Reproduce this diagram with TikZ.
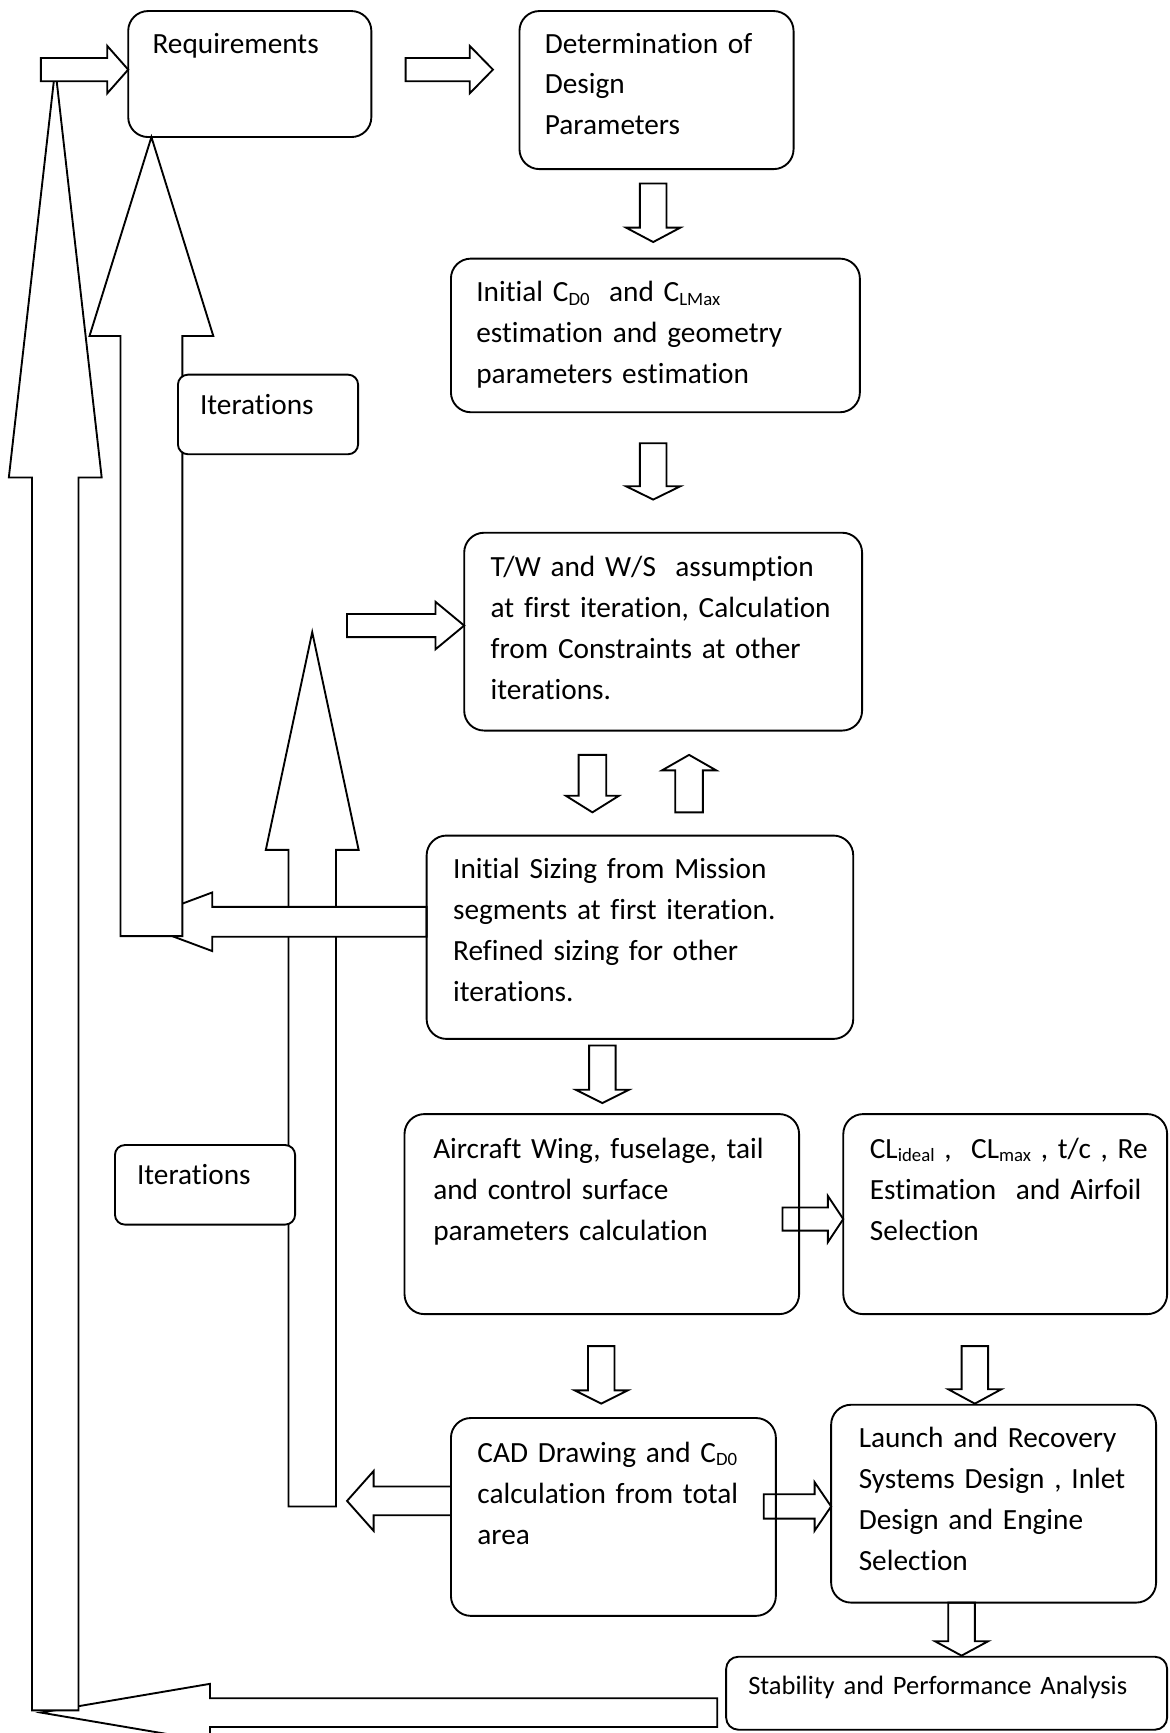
\documentclass[tikz,border=0pt]{standalone}
\usepackage{fontspec}
\setmainfont{Carlito}[Ligatures={NoCommon,NoRequired,NoContextual}, Contextuals={NoAlternate}]
\newcommand{\BlkH}[6]{%
  \draw[barrow] (#1,{#4-#5}) -- (#2,{#4-#5}) -- (#2,{#4-#6}) -- (#3,#4) -- (#2,{#4+#6}) -- (#2,{#4+#5}) -- (#1,{#4+#5}) -- cycle;}
\newcommand{\BlkV}[6]{%
  \draw[barrow] ({#4-#5},#1) -- ({#4-#5},#2) -- ({#4-#6},#2) -- (#4,#3) -- ({#4+#6},#2) -- ({#4+#5},#2) -- ({#4+#5},#1) -- cycle;}
\newcommand{\RBox}[6]{%
  \node[#6, anchor=north west, minimum width={(#4-#2)*0.5pt}, minimum height={(#5-#3)*0.5pt}] (#1) at (#2,#3) {};}
\newcommand{\Sb}[1]{\raisebox{-1.6pt}{\fontsize{8.5}{10}\selectfont #1}}
\tikzset{
  barrow/.style={draw=black, fill=white, line width=0.85pt, line join=miter},
  bigbox/.style={draw=black, line width=0.85pt, rounded corners=9pt, inner sep=0pt, outer sep=0pt},
  itbox/.style={draw=black, fill=white, line width=0.85pt, rounded corners=4.5pt, inner sep=0pt, outer sep=0pt},
  stbox/.style={draw=black, line width=0.85pt, rounded corners=5.5pt, inner sep=0pt, outer sep=0pt},
  txt/.style={anchor=north west, inner sep=0pt, outer sep=0pt, yshift=13.25pt, text width=200pt, align=left,
    font=\fontsize{13.25}{18.5}\selectfont, execute at begin node={\rule{0pt}{13.25pt}}},
  stxt/.style={anchor=north west, inner sep=0pt, outer sep=0pt, yshift=12pt, text width=200pt, align=left,
    font=\fontsize{12}{15}\selectfont, execute at begin node={\rule{0pt}{12pt}}}
}
\begin{document}
\begin{tikzpicture}[x=0.5pt,y=-0.5pt]
\useasboundingbox (0,0) rectangle (1058,1568);
\clip (0,0) rectangle (1058,1568);
% long feedback arrows (layered)
\BlkV{1363}{769}{572}{282.5}{21.5}{42}
\BlkH{386}{192}{121}{834}{13.5}{26.5}
\BlkV{847}{304}{124}{137}{28}{56}
\BlkH{649}{190}{37}{1549.5}{13}{26}
\BlkV{1547.5}{432}{62}{50}{21}{42}
\BlkH{37}{97}{116}{63}{10.5}{21.5}
% forward arrows
\BlkH{367}{425}{446}{63}{10.5}{21.5}
\BlkV{166}{206}{219}{591}{12}{24.5}
\BlkV{401}{440}{452}{591}{12}{24.5}
\BlkH{314}{394}{420}{566}{10.5}{21.5}
\BlkV{683}{720}{735}{536}{12.5}{24}
\BlkV{735}{697}{683}{623.5}{12.5}{24.5}
\BlkV{946}{986}{998}{545}{12}{24}
\BlkH{708}{749}{763}{1103}{10.5}{21}
\BlkV{1218}{1258}{1270}{544}{12}{24}
\BlkV{1218}{1257}{1270}{882}{12}{24}
\BlkH{691}{737}{752}{1363}{11}{22}
\BlkV{1450}{1485}{1498}{870}{12}{24}
\BlkH{408}{338}{314}{1358}{13}{27}
% boxes
\RBox{req}{116}{10}{336}{124}{bigbox}
\RBox{det}{470}{10}{718}{153}{bigbox}
\RBox{cdo}{408}{234}{778}{373}{bigbox}
\RBox{tw}{420}{482}{780}{661}{bigbox}
\RBox{siz}{386}{756}{772}{940}{bigbox}
\RBox{air}{366}{1008}{723}{1189}{bigbox}
\RBox{clb}{763}{1008}{1056}{1189}{bigbox}
\RBox{cad}{408}{1283}{702}{1462}{bigbox}
\RBox{lau}{752}{1271}{1046}{1450}{bigbox}
\RBox{stab}{657}{1499}{1056}{1565}{stbox}
\RBox{ita}{161}{339}{324}{411}{itbox}
\RBox{itb}{104}{1036}{267}{1108}{itbox}
% texts
\node[txt] (reqT) at (138,48) {Requirements};
\node[txt] (detT) at (493,48) {Determination of\\Design\\Parameters};
\node[txt] (cdoT) at (431,273) {Initial C\Sb{D0}\ \ and C\Sb{LMax}\\estimation and geometry\\parameters estimation};
\node[txt] (twT) at (444,522) {T/W and W/S\ \ assumption\\at first iteration, Calculation\\from Constraints at other\\iterations.};
\node[txt] (sizT) at (410,795) {Initial Sizing from Mission\\segments at first iteration.\\Refined sizing for other\\iterations.};
\node[txt] (airT) at (392,1048) {Aircraft Wing, fuselage, tail\\and control surface\\parameters calculation};
\node[txt] (clT) at (787,1048) {CL\Sb{ideal} ,\ \ CL\Sb{max} , t/c , Re\\Estimation\ \ and Airfoil\\Selection};
\node[txt] (cadT) at (432,1323) {CAD Drawing and C\Sb{D0}\\calculation from total\\area};
\node[txt] (lauT) at (777,1310) {Launch and Recovery\\Systems Design , Inlet\\Design and Engine\\Selection};
\node[stxt] (stabT) at (677,1533) {Stability and Performance Analysis};
\node[txt] (itaT) at (181,375) {Iterations};
\node[txt] (itbT) at (124,1072) {Iterations};
\end{tikzpicture}
\end{document}
